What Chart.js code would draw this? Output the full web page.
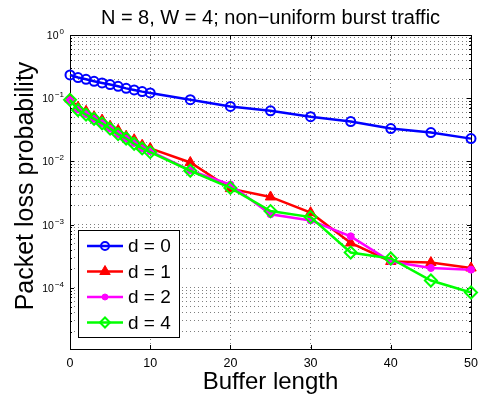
<!DOCTYPE html>
<html lang="en">
<head>
  <meta charset="UTF-8" />
  <title>Packet loss probability vs buffer length</title>
  <script src="https://cdn.jsdelivr.net/npm/chart.js@4"></script>
  <style>
    body {
      margin: 0;
      background: #fff;
    }
    #wrap {
      width: 479px;
      height: 396px;
    }
  </style>
</head>
<body>
  <div id="wrap"><canvas id="lossChart"></canvas></div>

<script>
  // buffer lengths (shared by all curves)
  const bufferLen = [0, 1, 2, 3, 4, 5, 6, 7, 8, 9, 10, 15, 20, 25, 30, 35, 40, 45, 50];

  // packet loss probability per d
  const lossD0 = [0.233, 0.212, 0.199, 0.185, 0.174, 0.164, 0.154, 0.143, 0.135, 0.127, 0.121,
                  0.0946, 0.074, 0.063, 0.051, 0.0427, 0.033, 0.0285, 0.0229];
  const lossD1 = [0.097, 0.072, 0.062, 0.051, 0.045, 0.036, 0.031, 0.025, 0.022, 0.018, 0.016,
                  0.0096, 0.0037, 0.00273, 0.00154, 0.00051, 0.00026, 0.00025, 0.000205];
  const lossD2 = [0.093, 0.066, 0.056, 0.047, 0.040, 0.033, 0.027, 0.023, 0.0195, 0.016, 0.0145,
                  0.0072, 0.0043, 0.00145, 0.00116, 0.00065, 0.00026, 0.000205, 0.000193];
  const lossD4 = [0.094, 0.065, 0.055, 0.047, 0.040, 0.033, 0.027, 0.023, 0.019, 0.016, 0.014,
                  0.0071, 0.0038, 0.00163, 0.00131, 0.00036, 0.00029, 0.00013, 0.000084];

  const seriesLabels = ['d = 0', 'd = 1', 'd = 2', 'd = 4'];
  const xTicks = [0, 10, 20, 30, 40, 50];
  const yDecades = [-4, -3, -2, -1, 0];

  const FONT = '"Liberation Sans", Arial, Helvetica, sans-serif';
  const Y_MIN = 1.07e-5;

  // 1..9 x 10^e grid values for the log axis
  const yGridVals = [];
  [-5].concat(yDecades).forEach(e => {
    for (let k = 1; k <= 9; k++) {
      const v = k * Math.pow(10, e);
      if (v < Y_MIN) continue;
      if (e === 0 && k > 1) break;
      yGridVals.push(v);
    }
  });

  function pts(ys) {
    return bufferLen.map((x, i) => ({ x: x, y: ys[i] }));
  }

  // axes box, tick marks, tick labels, titles and the legend
  const matlabLook = {
    id: 'matlabLook',
    beforeDatasetsDraw(chart) {
      const { ctx, chartArea: a, scales } = chart;
      ctx.save();
      ctx.strokeStyle = '#000';
      ctx.lineWidth = 1;
      ctx.strokeRect(Math.round(a.left) + 0.5, Math.round(a.top) + 0.5,
                     Math.round(a.right - a.left), Math.round(a.bottom - a.top));
      ctx.beginPath();
      xTicks.forEach(v => {
        const px = Math.round(scales.x.getPixelForValue(v)) + 0.5;
        ctx.moveTo(px, a.bottom); ctx.lineTo(px, a.bottom - 4);
        ctx.moveTo(px, a.top); ctx.lineTo(px, a.top + 4);
      });
      yGridVals.forEach(v => {
        const py = Math.round(scales.y.getPixelForValue(v)) + 0.5;
        const major = Math.abs(Math.log10(v) - Math.round(Math.log10(v))) < 1e-9;
        const len = major ? 4 : 2;
        ctx.moveTo(a.left, py); ctx.lineTo(a.left + len, py);
        ctx.moveTo(a.right, py); ctx.lineTo(a.right - len, py);
      });
      ctx.stroke();
      ctx.restore();
    },
    afterDraw(chart) {
      const { ctx, chartArea: a, scales } = chart;
      ctx.save();
      ctx.fillStyle = '#000';

      // title
      ctx.font = '20px ' + FONT;
      ctx.textAlign = 'center';
      ctx.textBaseline = 'alphabetic';
      ctx.fillText('N = 8, W = 4; non\u2212uniform burst traffic', (a.left + a.right) / 2, 24);

      // x tick labels
      ctx.font = '12.5px ' + FONT;
      ctx.textBaseline = 'top';
      xTicks.forEach(v => {
        ctx.fillText(String(v), scales.x.getPixelForValue(v), a.bottom + 8);
      });

      // y tick labels as 10 with a raised exponent
      yDecades.forEach(e => {
        const py = scales.y.getPixelForValue(Math.pow(10, e));
        const exp = e === 0 ? '0' : '\u2212' + Math.abs(e);
        ctx.textAlign = 'right';
        ctx.textBaseline = 'alphabetic';
        ctx.font = '8px ' + FONT;
        const ew = ctx.measureText(exp).width;
        ctx.fillText(exp, a.left - 6, py - 1);
        ctx.font = '10.5px ' + FONT;
        ctx.fillText('10', a.left - 7 - ew, py + 4);
      });

      // axis titles
      ctx.font = '24px ' + FONT;
      ctx.textAlign = 'center';
      ctx.textBaseline = 'alphabetic';
      ctx.fillText('Buffer length', (a.left + a.right) / 2, 389);
      ctx.save();
      ctx.translate(33, 186);
      ctx.rotate(-Math.PI / 2);
      ctx.font = '25px ' + FONT;
      ctx.fillText('Packet loss probability', 0, 0);
      ctx.restore();

      // legend box
      const bx = 78.5, by = 230.5, bw = 101, bh = 107;
      ctx.fillStyle = '#fff';
      ctx.fillRect(bx, by, bw, bh);
      ctx.strokeStyle = '#000';
      ctx.lineWidth = 1;
      ctx.strokeRect(bx, by, bw, bh);
      chart.data.datasets.forEach((ds, i) => {
        const ly = 246 + i * 25.5;
        ctx.strokeStyle = ds.borderColor;
        ctx.lineWidth = ds.borderWidth;
        ctx.beginPath();
        ctx.moveTo(87, ly);
        ctx.lineTo(123, ly);
        ctx.stroke();
        ctx.fillStyle = ds.pointBackgroundColor;
        ctx.lineWidth = ds.pointBorderWidth;
        Chart.helpers.drawPoint(ctx, {
          pointStyle: ds.pointStyle,
          radius: ds.legendRadius,
          borderWidth: ds.pointBorderWidth,
          rotation: 0
        }, 105, ly);
        ctx.fillStyle = '#000';
        ctx.font = '19px ' + FONT;
        ctx.textAlign = 'left';
        ctx.textBaseline = 'middle';
        ctx.fillText(ds.label, 128, ly + 1);
      });
      ctx.restore();
    }
  };

  const gridDots = {
    color: 'rgba(0,0,0,0.5)',
    lineWidth: 1,
    drawTicks: false,
    tickLength: 0
  };

  const chart = new Chart(document.getElementById('lossChart'), {
    type: 'line',
    data: {
      datasets: [{
        label: seriesLabels[0],
        data: pts(lossD0),
        borderColor: '#0000ff',
        borderWidth: 2.5,
        pointStyle: 'circle',
        pointRadius: 4.5,
        legendRadius: 4,
        pointBorderWidth: 2,
        pointBackgroundColor: 'rgba(0,0,0,0)',
        order: 3
      }, {
        label: seriesLabels[1],
        data: pts(lossD1),
        borderColor: '#ff0000',
        borderWidth: 2.5,
        pointStyle: 'triangle',
        pointRadius: 6,
        legendRadius: 6,
        pointBorderWidth: 1,
        pointBackgroundColor: '#ff0000',
        order: 2
      }, {
        label: seriesLabels[2],
        data: pts(lossD2),
        borderColor: '#ff00ff',
        borderWidth: 2.5,
        pointStyle: 'circle',
        pointRadius: 3.5,
        legendRadius: 3,
        pointBorderWidth: 1,
        pointBackgroundColor: '#ff00ff',
        order: 1
      }, {
        label: seriesLabels[3],
        data: pts(lossD4),
        borderColor: '#00ff00',
        borderWidth: 2.5,
        pointStyle: 'rectRot',
        pointRadius: 6,
        legendRadius: 5,
        pointBorderWidth: 2,
        pointBackgroundColor: 'rgba(0,0,0,0)',
        order: 0
      }]
    },
    options: {
      responsive: true,
      maintainAspectRatio: false,
      animation: false,
      layout: { padding: { left: 70, top: 35, right: 7, bottom: 47 } },
      elements: {
        line: { tension: 0, fill: false },
        point: { hoverRadius: 4 }
      },
      datasets: { line: { clip: false } },
      plugins: {
        legend: { display: false },
        tooltip: { enabled: false },
        title: { display: false }
      },
      scales: {
        x: {
          type: 'linear',
          min: 0,
          max: 50,
          ticks: { display: false, stepSize: 10 },
          grid: gridDots,
          border: { display: false, dash: [1, 3] },
          afterFit: s => { s.height = 0; }
        },
        y: {
          type: 'logarithmic',
          min: Y_MIN,
          max: 1,
          ticks: { display: false, autoSkip: false },
          grid: gridDots,
          border: { display: false, dash: [1, 3] },
          afterBuildTicks: s => { s.ticks = yGridVals.map(v => ({ value: v })); },
          afterFit: s => { s.width = 0; }
        }
      }
    },
    plugins: [matlabLook]
  });
</script>
</body>
</html>
